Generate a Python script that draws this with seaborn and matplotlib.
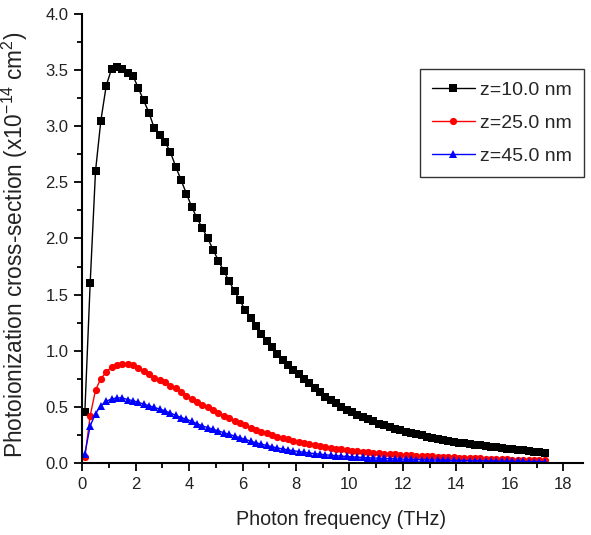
import numpy as np
import pandas as pd
import matplotlib
matplotlib.use("Agg")
import matplotlib.pyplot as plt
import seaborn as sns

# ---- data ----
freq_start, freq_step, n_pts = 0.1, 0.2, 87
labels = ["z=10.0 nm", "z=25.0 nm", "z=45.0 nm"]
colors = ["#000000", "#ff0000", "#0000ff"]
markers = ["s", "o", "^"]

z10 = [0.45, 1.60, 2.60, 3.05, 3.36, 3.51, 3.53, 3.51, 3.47, 3.45,
       3.34, 3.23, 3.12, 2.98, 2.92, 2.86, 2.77, 2.64, 2.52, 2.40,
       2.28, 2.18, 2.09, 2.00, 1.90, 1.80, 1.71, 1.62, 1.53, 1.45,
       1.36, 1.29, 1.22, 1.15, 1.09, 1.03, 0.97, 0.92, 0.87, 0.83,
       0.79, 0.75, 0.71, 0.67, 0.63, 0.59, 0.56, 0.53, 0.50, 0.47,
       0.45, 0.43, 0.41, 0.39, 0.37, 0.35, 0.335, 0.32, 0.305, 0.29,
       0.28, 0.265, 0.255, 0.245, 0.235, 0.225, 0.215, 0.205, 0.197, 0.19,
       0.182, 0.175, 0.168, 0.162, 0.156, 0.150, 0.144, 0.138, 0.132, 0.127,
       0.122, 0.117, 0.112, 0.107, 0.102, 0.097, 0.093]

z25 = [0.05, 0.42, 0.65, 0.75, 0.81, 0.855, 0.875, 0.88, 0.88, 0.87,
       0.845, 0.82, 0.79, 0.755, 0.74, 0.72, 0.69, 0.665, 0.635, 0.60,
       0.57, 0.545, 0.52, 0.495, 0.47, 0.445, 0.42, 0.40, 0.375, 0.355,
       0.335, 0.315, 0.295, 0.28, 0.265, 0.25, 0.235, 0.222, 0.21, 0.198,
       0.187, 0.177, 0.167, 0.158, 0.15, 0.142, 0.135, 0.128, 0.122, 0.116,
       0.111, 0.106, 0.101, 0.096, 0.092, 0.088, 0.084, 0.080, 0.077, 0.074,
       0.071, 0.068, 0.065, 0.063, 0.060, 0.058, 0.056, 0.054, 0.052, 0.050,
       0.048, 0.046, 0.044, 0.042, 0.041, 0.039, 0.037, 0.036, 0.034, 0.033,
       0.031, 0.030, 0.029, 0.027, 0.026, 0.025, 0.024]

z45 = [0.08, 0.33, 0.44, 0.51, 0.55, 0.57, 0.58, 0.58, 0.565, 0.555,
       0.54, 0.525, 0.51, 0.495, 0.48, 0.465, 0.445, 0.425, 0.405, 0.39,
       0.37, 0.35, 0.33, 0.315, 0.30, 0.285, 0.27, 0.255, 0.24, 0.225,
       0.21, 0.195, 0.18, 0.168, 0.156, 0.145, 0.134, 0.125, 0.117, 0.109,
       0.102, 0.095, 0.089, 0.083, 0.078, 0.073, 0.069, 0.065, 0.061, 0.058,
       0.055, 0.052, 0.049, 0.047, 0.045, 0.043, 0.041, 0.039, 0.037, 0.035,
       0.034, 0.032, 0.031, 0.030, 0.028, 0.027, 0.026, 0.025, 0.024, 0.023,
       0.022, 0.021, 0.020, 0.019, 0.019, 0.018, 0.017, 0.017, 0.016, 0.015,
       0.015, 0.014, 0.014, 0.013, 0.013, 0.012, 0.012]

xticks = [0, 2, 4, 6, 8, 10, 12, 14, 16, 18]
yticks = [0.0, 0.5, 1.0, 1.5, 2.0, 2.5, 3.0, 3.5, 4.0]

freq = np.round(freq_start + freq_step * np.arange(n_pts), 2)

frames = []
for lab, vals in zip(labels, [z10, z25, z45]):
    frames.append(pd.DataFrame({"freq": freq, "sigma": vals, "series": lab}))
df = pd.concat(frames, ignore_index=True)

# ---- style ----
sns.set_style("ticks")
plt.rcParams["font.family"] = ["Liberation Sans", "DejaVu Sans"]
plt.rcParams["mathtext.default"] = "regular"

fig = plt.figure(figsize=(5.91, 5.35), dpi=100)
ax = fig.add_axes([0.139, 0.1346, 0.848, 0.8394])

sns.lineplot(data=df, x="freq", y="sigma", hue="series", style="series",
             palette=colors, markers=markers, dashes=False, ax=ax,
             linewidth=1.0, markersize=5.2, markeredgewidth=0,
             legend=True)

ax.set_xlim(0, 18.75)
ax.set_ylim(0, 4.0)
ax.set_xticks(xticks)
ax.set_yticks(yticks)
ax.set_xticklabels([str(t) for t in xticks])
ax.set_yticklabels([f"{t:.1f}" for t in yticks])
ax.xaxis.set_minor_locator(matplotlib.ticker.MultipleLocator(1))
ax.yaxis.set_minor_locator(matplotlib.ticker.MultipleLocator(0.25))
ax.tick_params(which="major", direction="out", length=6, width=1.3,
               labelsize=12, color="black", labelcolor="#222222", pad=4)
ax.tick_params(which="minor", direction="out", length=3.5, width=1.3,
               color="black")
for s in ["top", "right"]:
    ax.spines[s].set_visible(False)
for s in ["left", "bottom"]:
    ax.spines[s].set_linewidth(1.5)
    ax.spines[s].set_color("black")

ax.set_xlabel("Photon frequency (THz)", fontsize=14.2, labelpad=11,
              color="#222222")
ax.xaxis.set_label_coords(0.517, -0.105)
ax.set_ylabel(r"Photoionization cross-section (x10$^{-14}$ cm$^{2}$)",
              fontsize=16.3, color="#222222")
ax.yaxis.set_label_coords(-0.104, 0.487)

leg = ax.legend(loc="upper left", bbox_to_anchor=(420 / 591, 1 - 69 / 535),
                bbox_transform=fig.transFigure, frameon=True, fancybox=False,
                borderaxespad=0, fontsize=14, handlelength=2.2,
                borderpad=0.62, labelspacing=0.8, handletextpad=0.25,
                title=None)
leg.get_frame().set_edgecolor("black")
leg.get_frame().set_linewidth(1.0)

fig.savefig("out.png", dpi=100)
